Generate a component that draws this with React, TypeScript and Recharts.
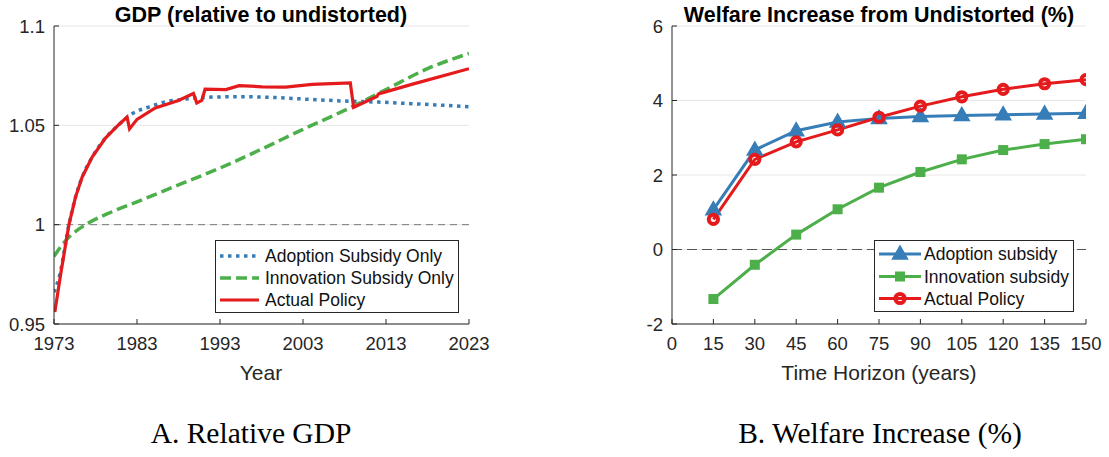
import React from "react"
import { LineChart, Line, XAxis, YAxis, CartesianGrid, ReferenceLine } from "recharts"

// ---- panel A: relative GDP ----
const YEAR_TICKS = [1973, 1983, 1993, 2003, 2013, 2023]
const GDP_TICKS = [0.95, 1, 1.05, 1.1]

const adoptionYears = [1973, 1973.7, 1974.8, 1975.6, 1976.4, 1977.6, 1979.2, 1980.8, 1982.4, 1984.4, 1986.4, 1988.4, 1992, 1996.1, 2000.1, 2004.1, 2008.1, 2012.1, 2016.1, 2023]
const adoptionGdp = [0.966, 0.975, 1.0, 1.014, 1.024, 1.034, 1.0436, 1.0503, 1.0558, 1.0592, 1.0618, 1.063, 1.0642, 1.0644, 1.0639, 1.063, 1.0622, 1.0617, 1.0609, 1.0594]

const innovationYears = [1973, 1974, 1975, 1977, 1980, 1983, 1988, 1993, 1998, 2003, 2008, 2013, 2018, 2023]
const innovationGdp = [0.984, 0.99, 0.9945, 1.0005, 1.0065, 1.0115, 1.02, 1.0285, 1.038, 1.048, 1.0575, 1.068, 1.0785, 1.0862]

const actualYears = [1973.1, 1973.8, 1974.8, 1975.6, 1976.4, 1977.6, 1979.2, 1980.8, 1981.8, 1982.1, 1983, 1985.2, 1988, 1989.8, 1990.2, 1990.8, 1991.2, 1993.7, 1995.3, 1998.1, 2000.9, 2004.1, 2008.7, 2009.1, 2011.9, 2012.1, 2016.1, 2023]
const actualGdp = [0.956, 0.975, 1.0, 1.014, 1.024, 1.034, 1.0436, 1.0503, 1.0542, 1.0482, 1.053, 1.0588, 1.0625, 1.066, 1.0612, 1.0625, 1.0682, 1.068, 1.07, 1.0694, 1.0692, 1.0706, 1.0714, 1.059, 1.0645, 1.0658, 1.0706, 1.0785]

// ---- panel B: welfare increase ----
const HORIZONS = [15, 30, 45, 60, 75, 90, 105, 120, 135, 150]
const HORIZON_TICKS = [0, 15, 30, 45, 60, 75, 90, 105, 120, 135, 150]
const WELFARE_TICKS = [-2, 0, 2, 4, 6]
const adoptionWelfare = [1.07, 2.67, 3.19, 3.42, 3.52, 3.57, 3.6, 3.62, 3.64, 3.66]
const innovationWelfare = [-1.33, -0.41, 0.4, 1.08, 1.66, 2.08, 2.42, 2.67, 2.83, 2.96]
const actualWelfare = [0.81, 2.42, 2.89, 3.21, 3.55, 3.85, 4.1, 4.3, 4.45, 4.56]

const BLUE = "#377EB8"
const GREEN = "#4DAF4A"
const RED = "#E41A1C"
const AXIS = "#262626"
const GRID = "#e6e6e6"
const SANS = "'Liberation Sans', Arial, sans-serif"
const SERIF = "'Liberation Serif', serif"
const TICK_FONT = 18.5

const toSeries = (xs: number[], ys: number[]) => xs.map((x, i) => ({ x, y: ys[i] }))

const welfareData = HORIZONS.map((h, i) => ({
  h,
  adoption: adoptionWelfare[i],
  innovation: innovationWelfare[i],
  actual: actualWelfare[i],
}))

// inward ticks, MATLAB style
const bottomTick = (p: any) => {
  const ay = p.y - 13
  return (
    <g>
      <line x1={p.x} x2={p.x} y1={ay} y2={ay - 5} stroke={AXIS} />
      <text x={p.x} y={p.y} dy="0.71em" textAnchor="middle" fill={AXIS} fontSize={TICK_FONT} fontFamily={SANS}>
        {String(p.payload.value)}
      </text>
    </g>
  )
}
const topTick = (p: any) => <line x1={p.x} x2={p.x} y1={p.y} y2={p.y + 5} stroke={AXIS} />
const leftTick = (p: any) => {
  const ax = p.x + 9
  return (
    <g>
      <line x1={ax} x2={ax + 5} y1={p.y} y2={p.y} stroke={AXIS} />
      <text x={p.x} y={p.y} dy="0.36em" textAnchor="end" fill={AXIS} fontSize={TICK_FONT} fontFamily={SANS}>
        {String(p.payload.value)}
      </text>
    </g>
  )
}
const rightTick = (p: any) => <line x1={p.x} x2={p.x - 5} y1={p.y} y2={p.y} stroke={AXIS} />

const triangleDot = (p: any) => (
  <polygon
    key={`tri-${p.index}`}
    points={`${p.cx},${p.cy - 8} ${p.cx - 7.5},${p.cy + 5} ${p.cx + 7.5},${p.cy + 5}`}
    fill={BLUE}
    stroke={BLUE}
    strokeWidth={1.5}
  />
)
const squareDot = (p: any) => (
  <rect key={`sq-${p.index}`} x={p.cx - 5} y={p.cy - 5} width={10} height={10} fill={GREEN} />
)
const circleDot = (p: any) => (
  <circle key={`ci-${p.index}`} cx={p.cx} cy={p.cy} r={4.6} fill="none" stroke={RED} strokeWidth={4} />
)

function GdpPanel() {
  return (
    <LineChart width={500} height={390} margin={{ top: 26, right: 31, left: 0, bottom: 0 }}>
      <CartesianGrid vertical={false} stroke={GRID} />
      <XAxis type="number" dataKey="x" domain={[1973, 2023]} ticks={YEAR_TICKS} allowDataOverflow
        height={66} tickSize={0} tickMargin={13} tickLine={false} axisLine={{ stroke: AXIS }} tick={bottomTick} interval={0} />
      <XAxis xAxisId="top" orientation="top" type="number" domain={[1973, 2023]} ticks={YEAR_TICKS} allowDataOverflow
        height={0} tickSize={0} tickMargin={0} tickLine={false} axisLine={{ stroke: AXIS }} tick={topTick} interval={0} />
      <YAxis type="number" domain={[0.95, 1.1]} ticks={GDP_TICKS} allowDataOverflow width={54}
        tickSize={0} tickMargin={9} tickLine={false} axisLine={{ stroke: AXIS }} tick={leftTick} interval={0} />
      <YAxis yAxisId="right" orientation="right" type="number" domain={[0.95, 1.1]} ticks={GDP_TICKS} allowDataOverflow width={0}
        tickSize={0} tickMargin={0} tickLine={false} axisLine={{ stroke: AXIS }} tick={rightTick} interval={0} />
      <ReferenceLine y={1} stroke="#7a7a7a" strokeDasharray="7 5" />
      <Line data={toSeries(innovationYears, innovationGdp)} dataKey="y" type="monotone" stroke={GREEN} strokeWidth={3.5}
        strokeDasharray="11 5" dot={false} activeDot={false} isAnimationActive={false} />
      <Line data={toSeries(adoptionYears, adoptionGdp)} dataKey="y" type="monotone" stroke={BLUE} strokeWidth={3.5}
        strokeDasharray="3.5 4.5" dot={false} activeDot={false} isAnimationActive={false} />
      <Line data={toSeries(actualYears, actualGdp)} dataKey="y" type="linear" stroke={RED} strokeWidth={3.2}
        dot={false} activeDot={false} isAnimationActive={false} />
    </LineChart>
  )
}

function WelfarePanel() {
  return (
    <LineChart width={489} height={390} data={welfareData} margin={{ top: 26, right: 23, left: 0, bottom: 0 }}>
      <CartesianGrid vertical={false} stroke={GRID} />
      <XAxis type="number" dataKey="h" domain={[0, 150]} ticks={HORIZON_TICKS} allowDataOverflow
        height={66} tickSize={0} tickMargin={13} tickLine={false} axisLine={{ stroke: AXIS }} tick={bottomTick} interval={0} />
      <XAxis xAxisId="top" orientation="top" type="number" domain={[0, 150]} ticks={HORIZON_TICKS} allowDataOverflow
        height={0} tickSize={0} tickMargin={0} tickLine={false} axisLine={{ stroke: AXIS }} tick={topTick} interval={0} />
      <YAxis type="number" domain={[-2, 6]} ticks={WELFARE_TICKS} allowDataOverflow width={52}
        tickSize={0} tickMargin={9} tickLine={false} axisLine={{ stroke: AXIS }} tick={leftTick} interval={0} />
      <YAxis yAxisId="right" orientation="right" type="number" domain={[-2, 6]} ticks={WELFARE_TICKS} allowDataOverflow width={0}
        tickSize={0} tickMargin={0} tickLine={false} axisLine={{ stroke: AXIS }} tick={rightTick} interval={0} />
      <ReferenceLine y={0} stroke="#555" strokeDasharray="10 5" />
      <Line dataKey="innovation" type="linear" stroke={GREEN} strokeWidth={3} dot={squareDot} activeDot={false} isAnimationActive={false} />
      <Line dataKey="adoption" type="linear" stroke={BLUE} strokeWidth={3} dot={triangleDot} activeDot={false} isAnimationActive={false} />
      <Line dataKey="actual" type="linear" stroke={RED} strokeWidth={3} dot={circleDot} activeDot={false} isAnimationActive={false} />
    </LineChart>
  )
}

export default function App() {
  const legendText = { fontFamily: SANS, fontSize: 17.5, fill: "#111" }
  return (
    <div style={{ position: "absolute", left: 0, top: 0, width: 1109, height: 457, background: "#fff" }}>
      <div style={{ position: "absolute", left: 0, top: 0 }}>
        <GdpPanel />
      </div>
      <div style={{ position: "absolute", left: 620, top: 0 }}>
        <WelfarePanel />
      </div>
      <svg width={1109} height={457} style={{ position: "absolute", left: 0, top: 0, pointerEvents: "none" }}>
        <text x={261} y={22} textAnchor="middle" fontFamily={SANS} fontWeight="bold" fontSize={21.5} fill="#000">
          GDP (relative to undistorted)
        </text>
        <text x={879} y={22} textAnchor="middle" fontFamily={SANS} fontWeight="bold" fontSize={21.5} fill="#000">
          Welfare Increase from Undistorted (%)
        </text>
        <text x={261} y={380} textAnchor="middle" fontFamily={SANS} fontSize={21} fill={AXIS}>Year</text>
        <text x={879} y={380} textAnchor="middle" fontFamily={SANS} fontSize={21} fill={AXIS}>Time Horizon (years)</text>
        <text x={251} y={443} textAnchor="middle" fontFamily={SERIF} fontSize={29.5} fill="#000">A. Relative GDP</text>
        <text x={880} y={443} textAnchor="middle" fontFamily={SERIF} fontSize={29.5} fill="#000">B. Welfare Increase (%)</text>

        {/* legend, panel A */}
        <rect x={215.5} y={240.5} width={243} height={72} fill="#fff" stroke={AXIS} />
        <line x1={220} x2={259} y1={256} y2={256} stroke={BLUE} strokeWidth={3.5} strokeDasharray="3.5 4.5" />
        <line x1={220} x2={259} y1={278} y2={278} stroke={GREEN} strokeWidth={3.5} strokeDasharray="11 5" />
        <line x1={220} x2={259} y1={300} y2={300} stroke={RED} strokeWidth={3.2} />
        <text x={265} y={256} dy="0.36em" {...legendText}>Adoption Subsidy Only</text>
        <text x={265} y={278} dy="0.36em" {...legendText}>Innovation Subsidy Only</text>
        <text x={265} y={300} dy="0.36em" {...legendText}>Actual Policy</text>

        {/* legend, panel B */}
        <rect x={874.5} y={240.5} width={199} height={71} fill="#fff" stroke={AXIS} />
        <line x1={879} x2={921} y1={254} y2={254} stroke={BLUE} strokeWidth={3} />
        <polygon points="900,246 892.5,259 907.5,259" fill={BLUE} stroke={BLUE} strokeWidth={1.5} />
        <line x1={879} x2={921} y1={276.5} y2={276.5} stroke={GREEN} strokeWidth={3} />
        <rect x={895} y={271.5} width={10} height={10} fill={GREEN} />
        <line x1={879} x2={921} y1={298.5} y2={298.5} stroke={RED} strokeWidth={3} />
        <circle cx={900} cy={298.5} r={4.6} fill="none" stroke={RED} strokeWidth={4} />
        <text x={924} y={254} dy="0.36em" {...legendText}>Adoption subsidy</text>
        <text x={924} y={276.5} dy="0.36em" {...legendText}>Innovation subsidy</text>
        <text x={924} y={298.5} dy="0.36em" {...legendText}>Actual Policy</text>
      </svg>
    </div>
  )
}
